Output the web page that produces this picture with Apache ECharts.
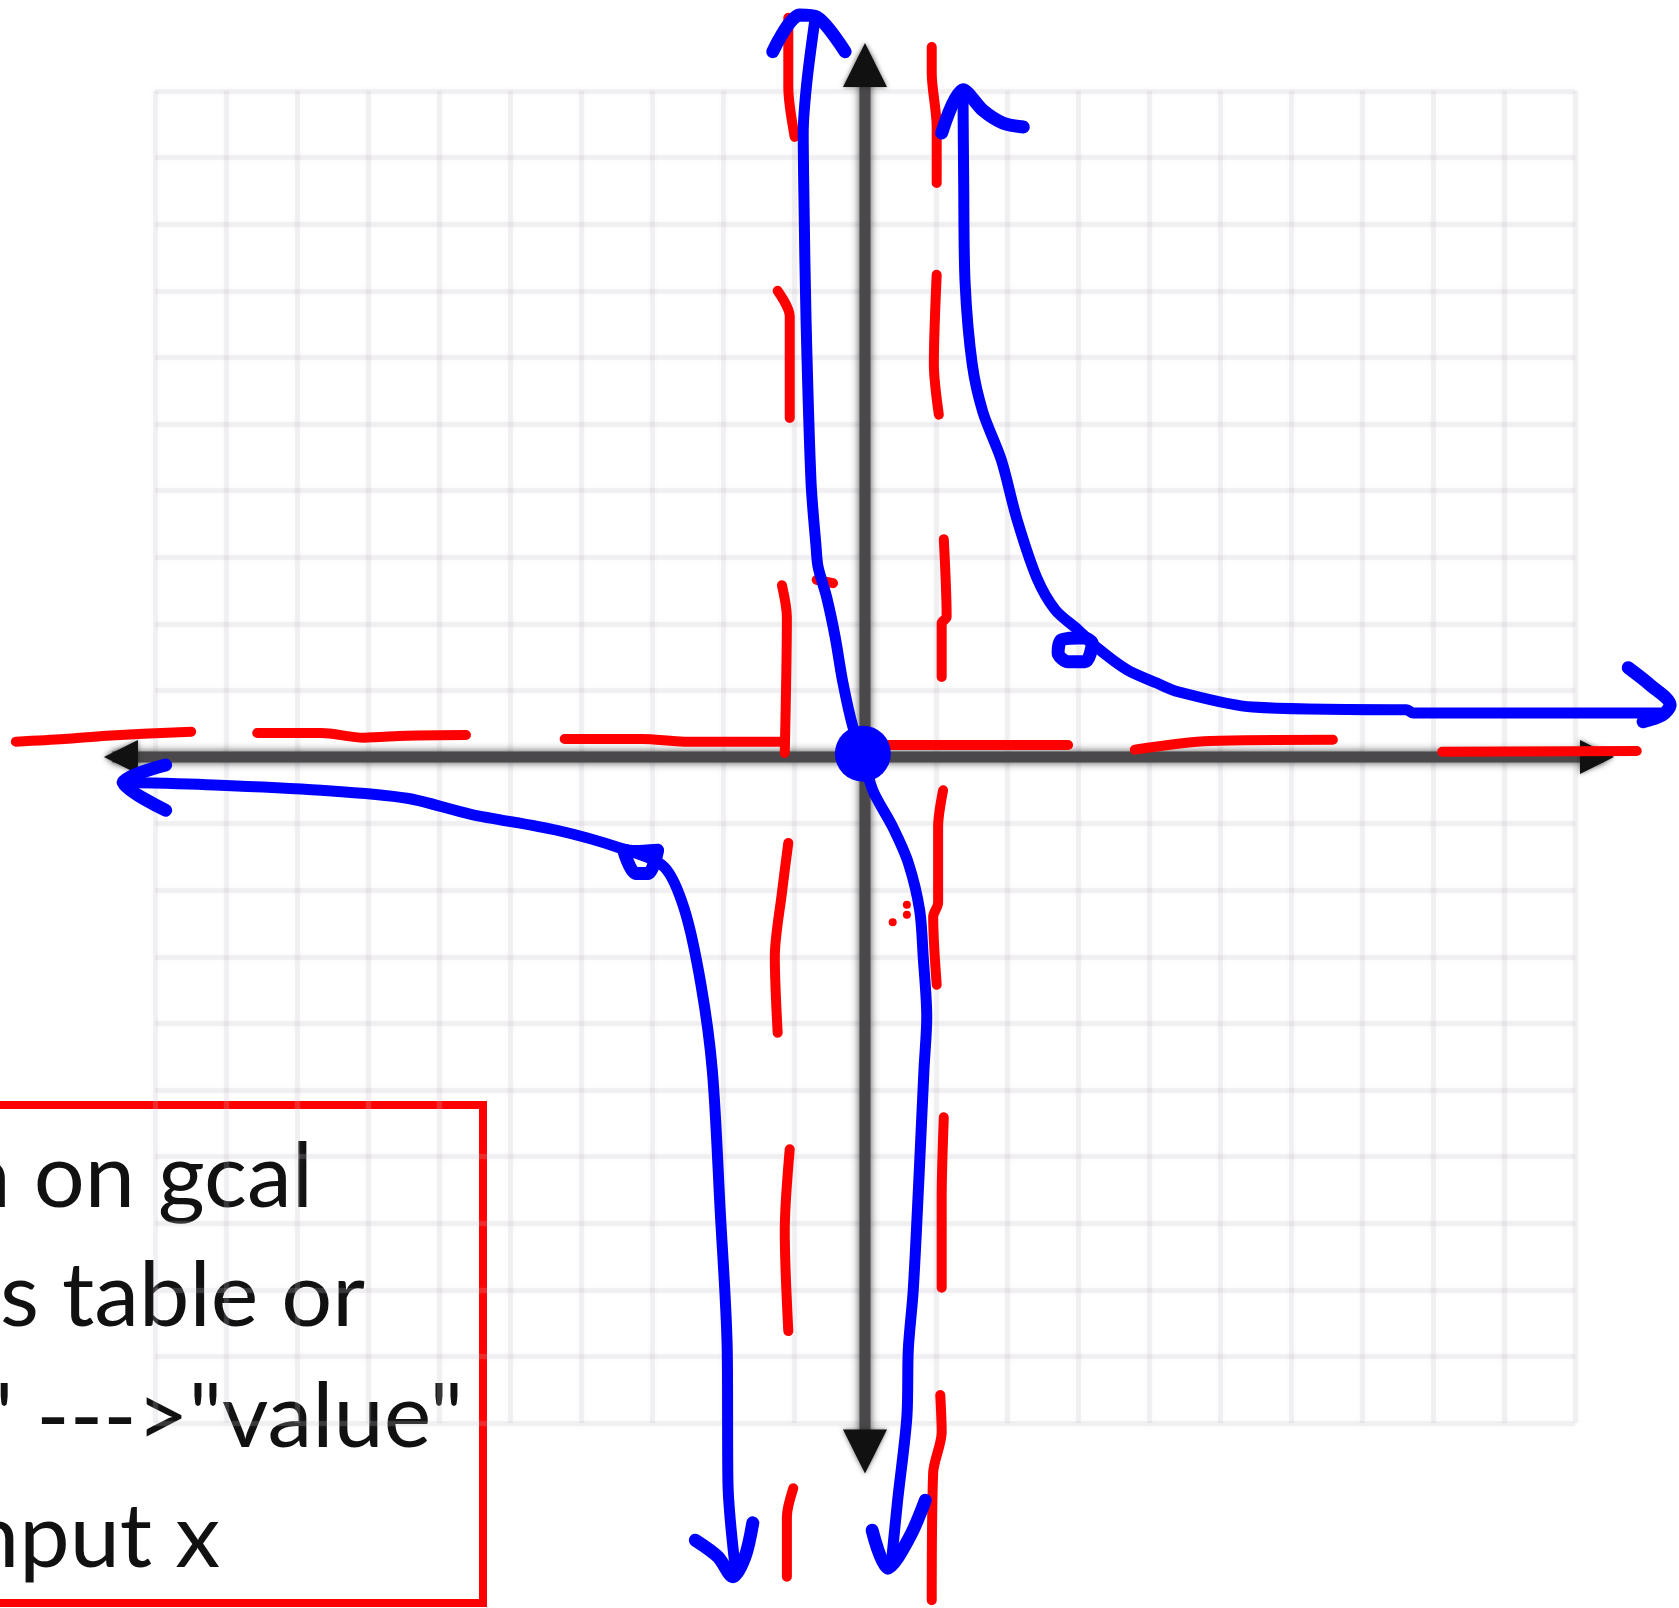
<!DOCTYPE html>
<html>
<head>
<meta charset="utf-8">
<style>
    html, body { margin: 0; padding: 0; background: #fff; }
    #chart { width: 1679px; height: 1608px; }
</style>
<script src="https://cdn.jsdelivr.net/npm/echarts@6/dist/echarts.min.js"></script>
</head>
<body>
<div id="chart"></div>
<script>
// all marks below are in graph units, the paper runs -10..10 both ways
const xAxisLine = [[-10.6, 0], [10.4, 0]];
const yAxisLine = [[0, 10.5], [0, -10.5]];
const axisHeads = [
    { value: [0, 10.39], symbolRotate: 0, symbolSize: 44 },
    { value: [0, -10.43], symbolRotate: 180, symbolSize: 44 },
    { value: [-10.48, 0], symbolRotate: 90, symbolSize: 34 },
    { value: [10.31, 0], symbolRotate: -90, symbolSize: 34 }
];

const asymptoteH1 = [[-11.96, 0.23], [-11.28, 0.27], [-10.68, 0.32], [-9.49, 0.38]];
const asymptoteH2 = [[-8.56, 0.36], [-7.66, 0.36], [-7.06, 0.29], [-6.45, 0.32], [-5.62, 0.33]];
const asymptoteH3 = [[-4.23, 0.27], [-3.14, 0.27], [-2.54, 0.23], [-1.17, 0.23]];
const asymptoteH4 = [[0.21, 0.18], [2.86, 0.18]];
const asymptoteH5 = [[3.80, 0.11], [4.86, 0.24], [6.59, 0.26]];
const asymptoteH6 = [[8.13, 0.08], [10.87, 0.09]];

const asymptoteL1 = [[-1.08, 11.10], [-1.08, 10.06], [-0.99, 9.31]];
const asymptoteL2 = [[-1.23, 7.00], [-1.06, 6.62], [-1.06, 5.09]];
const asymptoteL3 = [[-1.17, 2.58], [-1.10, 2.10], [-1.13, 0.06]];
const asymptoteL4 = [[-1.08, -1.29], [-1.17, -2.04], [-1.27, -3.00], [-1.23, -4.14]];
const asymptoteL5 = [[-1.06, -5.89], [-1.13, -7.12], [-1.08, -8.62]];
const asymptoteL6 = [[-1.01, -10.98], [-1.10, -11.41], [-1.10, -12.31]];

const asymptoteR1 = [[0.94, 10.66], [0.94, 10.27], [1.01, 9.46], [1.01, 8.62]];
const asymptoteR2 = [[1.01, 7.24], [0.97, 5.90], [1.04, 5.14]];
const asymptoteR3 = [[1.11, 3.27], [1.15, 2.10], [1.08, 2.01], [1.08, 1.20]];
const asymptoteR4 = [[1.10, -0.50], [1.03, -1.05], [1.03, -2.19], [0.96, -2.40], [1.01, -3.42]];
const asymptoteR5 = [[1.11, -5.41], [1.08, -6.64], [1.08, -7.97]];
const asymptoteR6 = [[1.06, -9.58], [1.08, -10.14], [0.96, -10.75], [0.94, -12.66]];

const redDab = [[-0.68, 2.66], [-0.45, 2.61]];
const redDots = [[0.39, -2.48], [0.59, -2.37], [0.59, -2.22]];

const branchTop = [[-0.03, 0.05], [-0.17, 0.45], [-0.31, 1.11], [-0.42, 1.80], [-0.54, 2.40], [-0.66, 2.85], [-0.69, 3.17],
    [-0.76, 4.13], [-0.83, 6.55], [-0.86, 8.41], [-0.87, 9.37], [-0.82, 10.12], [-0.70, 11.11]];
const branchTopHead = [[-1.30, 10.59], [-0.92, 11.14], [-0.68, 11.11], [-0.28, 10.59]];

const branchBottom = [[-0.03, 0.05], [0.11, -0.50], [0.39, -1.05], [0.61, -1.59], [0.77, -2.30], [0.82, -3.00], [0.87, -3.90],
    [0.83, -4.71], [0.76, -6.32], [0.68, -8.00], [0.61, -8.90], [0.59, -9.91], [0.46, -11.16], [0.38, -12.01]];
const branchBottomHead = [[0.10, -11.61], [0.32, -12.18], [0.63, -11.71], [0.85, -11.16]];

const branchRight = [[1.38, 10.02], [1.39, 8.66], [1.41, 7.12], [1.51, 5.90], [1.66, 5.18], [1.92, 4.46], [2.14, 3.57], [2.42, 2.69],
    [2.68, 2.21], [3.00, 1.91], [3.27, 1.64], [3.69, 1.31], [4.11, 1.11], [4.41, 0.98], [5.46, 0.75], [7.42, 0.71], [7.63, 0.71],
    [7.72, 0.66], [11.20, 0.66]];
const branchRightTopHead = [[1.08, 9.37], [1.38, 10.02], [1.66, 9.71], [1.94, 9.52], [2.23, 9.46]];
const branchRightEndHead = [[10.75, 1.34], [11.06, 1.08], [11.34, 0.78], [11.23, 0.63], [10.96, 0.53]];
const holeRight = [[3.10, 1.79], [2.77, 1.76], [2.72, 1.56], [2.86, 1.43], [3.10, 1.43], [3.20, 1.71], [3.10, 1.79]];

const branchLeft = [[-10.45, -0.38], [-9.17, -0.42], [-7.66, -0.50], [-6.45, -0.62], [-5.55, -0.86], [-4.34, -1.10], [-3.44, -1.37],
    [-2.83, -1.65], [-2.54, -2.30], [-2.31, -3.42], [-2.15, -4.71], [-2.04, -6.80], [-1.94, -8.90], [-1.93, -10.90], [-1.83, -12.16]];
const branchLeftEndHead = [[-9.85, -0.12], [-10.45, -0.38], [-9.85, -0.80]];
const branchLeftBottomHead = [[-2.39, -11.76], [-2.07, -12.01], [-1.86, -12.31], [-1.69, -12.01], [-1.58, -11.50]];
const holeLeft = [[-3.40, -1.40], [-3.23, -1.75], [-3.05, -1.75], [-2.92, -1.40], [-3.25, -1.42], [-3.40, -1.40]];

const originDot = [[-0.03, 0.05]];

const noteLines = ["n on gcal", "s table or", "\" --->\"value\"", "nput x"];

const RED = "#ff0000";
const BLUE = "#0000ff";

function stroke(data, color, width, z) {
    return {
        type: "line",
        xAxisIndex: 1,
        yAxisIndex: 1,
        z: z,
        data: data,
        clip: false,
        silent: true,
        symbol: "none",
        smooth: 0.3,
        lineStyle: { color: color, width: width, cap: "round", join: "round" }
    };
}

const redLines = [
    asymptoteH1, asymptoteH2, asymptoteH3, asymptoteH4, asymptoteH5, asymptoteH6,
    asymptoteL1, asymptoteL2, asymptoteL3, asymptoteL4, asymptoteL5, asymptoteL6,
    asymptoteR1, asymptoteR2, asymptoteR3, asymptoteR4, asymptoteR5, asymptoteR6,
    redDab
];
const blueLines = [branchTop, branchBottom, branchRight, branchLeft];
const blueHeads = [
    branchTopHead, branchBottomHead, branchRightTopHead, branchRightEndHead,
    branchLeftEndHead, branchLeftBottomHead, holeRight, holeLeft
];

function axisStroke(data) {
    const s = stroke(data, "#4a484a", 11, 2);
    s.smooth = false;
    s.lineStyle.cap = "butt";
    s.lineStyle.shadowColor = "rgba(30,30,30,0.8)";
    s.lineStyle.shadowBlur = 8;
    return s;
}

const paperLine = { lineStyle: { color: "rgba(196,186,200,0.18)", width: 5, shadowColor: "rgba(196,186,200,0.5)", shadowBlur: 5 } };

function hiddenAxis(min, max, gridIndex) {
    return { type: "value", gridIndex: gridIndex, min: min, max: max, show: false };
}

const chart = echarts.init(document.getElementById("chart"));
chart.setOption({
    animation: false,
    backgroundColor: "#fff",
    grid: [
        { left: 155, right: 104, top: 91, bottom: 185 },
        // same scale as the paper, stretched over the whole page so marks can leave the paper
        { left: 0, right: 0, top: 0, bottom: 0 }
    ],
    xAxis: [
        {
            type: "value", min: -10, max: 10, interval: 1, gridIndex: 0,
            axisLine: { show: false }, axisTick: { show: false }, axisLabel: { show: false },
            splitLine: paperLine
        },
        hiddenAxis(-12.183, 11.465, 1)
    ],
    yAxis: [
        {
            type: "value", min: -10, max: 10, interval: 1, gridIndex: 0,
            axisLine: { show: false }, axisTick: { show: false }, axisLabel: { show: false },
            splitLine: paperLine
        },
        hiddenAxis(-12.778, 11.366, 1)
    ],
    series: [
        axisStroke(xAxisLine),
        axisStroke(yAxisLine),
        {
            type: "scatter", xAxisIndex: 1, yAxisIndex: 1, z: 2, data: axisHeads, clip: false, silent: true, symbol: "triangle",
            itemStyle: { color: "#111", opacity: 1, shadowColor: "rgba(30,30,30,0.6)", shadowBlur: 5 }
        },
        ...redLines.map(line => stroke(line, RED, 10, 3)),
        {
            type: "scatter", xAxisIndex: 1, yAxisIndex: 1, z: 3, data: redDots, clip: false, silent: true, symbolSize: 8,
            itemStyle: { color: RED, opacity: 1 }
        },
        ...blueLines.map(line => stroke(line, BLUE, 11, 4)),
        ...blueHeads.map(line => stroke(line, BLUE, 13, 4)),
        {
            type: "scatter", xAxisIndex: 1, yAxisIndex: 1, z: 10, data: originDot, clip: false, silent: true, symbolSize: 56,
            itemStyle: { color: BLUE, opacity: 1 }
        }
    ],
    graphic: [
        {
            type: "rect",
            shape: { x: -10, y: 1105, width: 493, height: 498 },
            style: { fill: "none", stroke: RED, lineWidth: 8 },
            silent: true
        },
        ...noteLines.map((line, i) => ({
            type: "text",
            silent: true,
            x: [313, 365, 463, 220][i],
            y: [1223, 1342, 1463, 1583][i],
            style: {
                text: line,
                textAlign: "right",
                textVerticalAlign: "bottom",
                font: "90px Lato",
                fill: "#111"
            }
        }))
    ]
});

window.addEventListener("resize", () => chart.resize());
</script>
</body>
</html>
